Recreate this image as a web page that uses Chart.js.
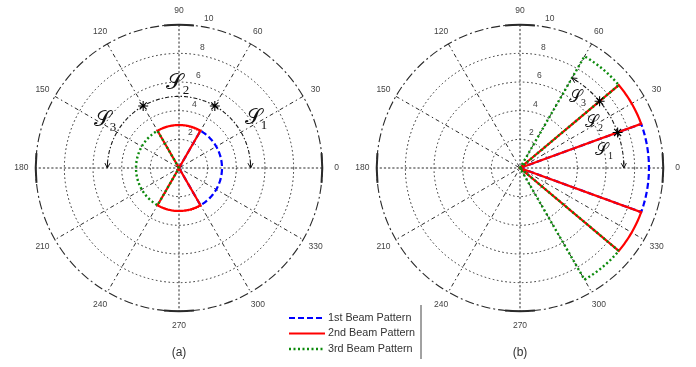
<!DOCTYPE html>
<html>
<head>
<meta charset="utf-8">
<script src="https://cdn.jsdelivr.net/npm/chart.js@4"></script>
<style>
  html, body { margin: 0; padding: 0; background: #ffffff; }
  #wrap { position: relative; width: 696px; height: 367px; }
  #wrap canvas { position: absolute; left: 0; top: 0; }
</style>
</head>
<body>
<div id="wrap">
  <canvas id="panelA" width="696" height="367"></canvas>
  <canvas id="panelB" width="696" height="367"></canvas>
</div>
<script>
// ---- polar grid ----
const RMAX = 10;
const ringTicks = [2, 4, 6, 8, 10];
const angleTicks = [0, 30, 60, 90, 120, 150, 180, 210, 240, 270, 300, 330];
const seriesNames = ['1st Beam Pattern', '2nd Beam Pattern', '3rd Beam Pattern'];

// ---- (a) three wide beams of equal gain ----
const gainA = 3;
const beam1A = [[-60, 60]];
const beam2A = [[60, 120], [240, 300]];
const beam3A = [[120, 240]];
const userRadiusA = 5;
const userAnglesA = [60, 120];
const sweepA = [[60, 0], [60, 120], [120, 180]];   // [from, to] in degrees
const sweepArrowA = [true, false, true];

// ---- (b) narrow beams of high gain ----
const gainB = 9;
const beam1B = [[-20, 20]];
const beam2B = [[20, 40], [-40, -20]];
const beam3B = [[40, 60], [-60, -40]];
const userRadiusB = 7.25;
const userAnglesB = [20, 40];
const sweepB = [[20, 0], [20, 40], [40, 60]];
const sweepArrowB = [true, false, true];

const sectorIds = ['1', '2', '3'];

// ---- helpers ----
const rad = d => d * Math.PI / 180;
const pol = (r, d) => ({ x: r * Math.cos(rad(d)), y: r * Math.sin(rad(d)) });

// closed pattern: origin -> rim arc -> origin for every sector
function beamPath(sectors, gain) {
  const pts = [{ x: 0, y: 0 }];
  sectors.forEach(([a0, a1]) => {
    for (let d = a0; d <= a1; d += 1) pts.push(pol(gain, d));
    pts.push({ x: 0, y: 0 });
  });
  return pts;
}
function arcPath(r, a0, a1) {
  const pts = [];
  const step = a1 > a0 ? 1 : -1;
  for (let d = a0; step > 0 ? d <= a1 : d >= a1; d += step) pts.push(pol(r, d));
  return pts;
}

const beamStyles = [
  { borderColor: '#0000ff', borderWidth: 2.2, borderDash: [6, 3], order: 5 },
  { borderColor: '#ff0000', borderWidth: 2.2, borderDash: [], order: 4 },
  { borderColor: '#0b8a0b', borderWidth: 2.4, borderDash: [2, 2.5], order: 3 }
];

function buildDatasets(beams, gain, userR, userAngles, sweeps, arrows) {
  const ds = beams.map((sectors, i) => Object.assign({
    label: seriesNames[i],
    data: beamPath(sectors, gain),
    showLine: true, pointRadius: 0, fill: false, tension: 0
  }, beamStyles[i]));
  sweeps.forEach(([a0, a1], i) => ds.push({
    label: 'S' + sectorIds[i],
    data: arcPath(userR, a0, a1),
    showLine: true, pointRadius: 0, fill: false, tension: 0,
    borderColor: '#1a1a1a', borderWidth: 1.1, borderDash: [4, 2, 1.5, 2],
    arrowEnd: arrows[i], order: 2
  }));
  ds.push({
    label: 'users',
    data: userAngles.map(a => pol(userR, a)),
    showLine: false, pointStyle: 'star', pointRadius: 5,
    borderColor: '#000000', backgroundColor: '#000000', borderWidth: 1.1, order: 1
  });
  return ds;
}

// grid, tick labels and caption of one polar panel
function polarGrid(caption, sLabels, sFont) {
  return {
    id: 'polarGrid',
    beforeDatasetsDraw(chart) {
      const { ctx, scales: { x, y } } = chart;
      const cx = x.getPixelForValue(0), cy = y.getPixelForValue(0);
      const R = v => x.getPixelForValue(v) - cx;
      const P = (r, d) => [x.getPixelForValue(pol(r, d).x), y.getPixelForValue(pol(r, d).y)];
      ctx.save();
      ctx.strokeStyle = '#2a2a2a';
      ctx.lineWidth = 1;
      // inner rings
      ctx.setLineDash([1.6, 2.6]);
      ringTicks.filter(r => r < RMAX).forEach(r => {
        ctx.beginPath(); ctx.arc(cx, cy, R(r), 0, Math.PI * 2); ctx.stroke();
      });
      // spokes through the centre
      [0, 30, 60, 90, 120, 150].forEach(a => {
        ctx.setLineDash(a % 90 === 0 ? [2.2, 2] : [4, 3, 1.5, 3]);
        const [x0, y0] = P(RMAX, a), [x1, y1] = P(RMAX, a + 180);
        ctx.beginPath(); ctx.moveTo(x0, y0); ctx.lineTo(x1, y1); ctx.stroke();
      });
      // outer ring
      ctx.setLineDash([9, 3, 2, 3]);
      ctx.lineWidth = 1.1;
      ctx.beginPath(); ctx.arc(cx, cy, R(RMAX), 0, Math.PI * 2); ctx.stroke();
      ctx.setLineDash([]);
      ctx.lineWidth = 2;
      const half = 6;
      [0, 90, 180, 270].forEach(a => {
        ctx.beginPath(); ctx.arc(cx, cy, R(RMAX), -rad(a) - rad(half), -rad(a) + rad(half)); ctx.stroke();
      });
      // angle labels
      ctx.fillStyle = '#444';
      ctx.font = '8.5px "Liberation Sans", Arial, sans-serif';
      ctx.textAlign = 'center'; ctx.textBaseline = 'middle';
      angleTicks.forEach(a => {
        const [lx, ly] = P(RMAX * 1.1, a);
        ctx.fillText(String(a), lx, ly);
      });
      // ring labels along 82 degrees
      ctx.font = '8.5px "Liberation Sans", Arial, sans-serif';
      ctx.textAlign = 'left';
      ringTicks.forEach(r => {
        const rr = R(r);
        ctx.fillText(String(r), cx + rr * Math.cos(rad(82)) + 5, cy - rr * Math.sin(rad(82)) - 7);
      });
      // caption
      ctx.fillStyle = '#333';
      ctx.font = '12px "Liberation Sans", Arial, sans-serif';
      ctx.textAlign = 'center';
      ctx.fillText(caption, cx, 353);
      ctx.restore();
    },
    afterDatasetsDraw(chart) {
      const { ctx, scales: { x, y } } = chart;
      ctx.save();
      // arrow heads at the end of sweep arcs
      chart.data.datasets.forEach(ds => {
        if (!ds.arrowEnd) return;
        const n = ds.data.length;
        const a = ds.data[n - 4], b = ds.data[n - 1];
        const ax = x.getPixelForValue(a.x), ay = y.getPixelForValue(a.y);
        const bx = x.getPixelForValue(b.x), by = y.getPixelForValue(b.y);
        const ang = Math.atan2(by - ay, bx - ax);
        const L = 5.5, w = rad(28);
        ctx.strokeStyle = '#111'; ctx.lineWidth = 1; ctx.setLineDash([]);
        ctx.beginPath();
        ctx.moveTo(bx - L * Math.cos(ang - w), by - L * Math.sin(ang - w));
        ctx.lineTo(bx, by);
        ctx.lineTo(bx - L * Math.cos(ang + w), by - L * Math.sin(ang + w));
        ctx.moveTo(bx, by);
        ctx.lineTo(bx - L * 1.2 * Math.cos(ang), by - L * 1.2 * Math.sin(ang));
        ctx.stroke();
      });
      // sector names
      ctx.fillStyle = '#111';
      ctx.textAlign = 'center'; ctx.textBaseline = 'middle';
      sLabels.forEach(([r, d], i) => {
        const px = x.getPixelForValue(pol(r, d).x), py = y.getPixelForValue(pol(r, d).y);
        ctx.font = sFont + 'px "DejaVu Serif", serif';
        ctx.fillText('\u{1D4AE}', px, py);
        ctx.font = Math.round(sFont * 0.58) + 'px "Liberation Serif", serif';
        ctx.fillText(sectorIds[i], px + sFont * 0.5, py + sFont * 0.33);
      });
      ctx.restore();
    }
  };
}

// legend shared by both panels
const beamLegend = {
  id: 'beamLegend',
  afterDraw(chart) {
    const { ctx } = chart;
    const rows = [318, 333.5, 349];
    ctx.save();
    chart.data.datasets.slice(0, 3).forEach((ds, i) => {
      ctx.strokeStyle = ds.borderColor;
      ctx.lineWidth = ds.borderWidth;
      ctx.setLineDash(ds.borderDash);
      ctx.beginPath(); ctx.moveTo(289, rows[i]); ctx.lineTo(325, rows[i]); ctx.stroke();
      ctx.setLineDash([]);
      ctx.fillStyle = '#333';
      ctx.font = '10.8px "Liberation Sans", Arial, sans-serif';
      ctx.textAlign = 'left'; ctx.textBaseline = 'middle';
      ctx.fillText(ds.label, 328, rows[i]);
    });
    ctx.strokeStyle = '#444'; ctx.lineWidth = 1;
    ctx.beginPath(); ctx.moveTo(421, 305); ctx.lineTo(421, 359); ctx.stroke();
    ctx.restore();
  }
};

function makePanel(id, padding, datasets, plugins) {
  return new Chart(document.getElementById(id), {
    type: 'scatter',
    data: { datasets },
    options: {
      responsive: false,
      animation: false,
      events: [],
      clip: false,
      layout: { padding },
      scales: {
        x: { type: 'linear', min: -RMAX, max: RMAX, display: false },
        y: { type: 'linear', min: -RMAX, max: RMAX, display: false }
      },
      plugins: { legend: { display: false }, tooltip: { enabled: false } }
    },
    plugins
  });
}

makePanel('panelA',
  { left: 35.7, right: 373.7, top: 24.7, bottom: 55.7 },
  buildDatasets([beam1A, beam2A, beam3A], gainA, userRadiusA, userAnglesA, sweepA, sweepArrowA),
  [polarGrid('(a)', [[6.23, 34], [5.94, 92.7], [6.33, 148]], 22), beamLegend]);

makePanel('panelB',
  { left: 376.7, right: 32.7, top: 24.7, bottom: 55.7 },
  buildDatasets([beam1B, beam2B, beam3B], gainB, userRadiusB, userAnglesB, sweepB, sweepArrowB),
  [polarGrid('(b)', [[5.84, 11.7], [5.92, 32], [6.21, 51.8]], 17)]);
</script>
</body>
</html>
